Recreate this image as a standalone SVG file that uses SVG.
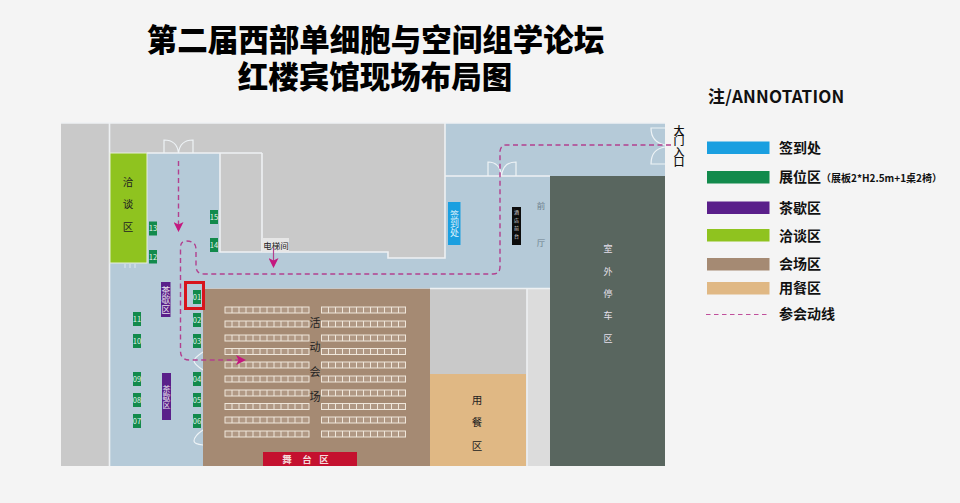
<svg xmlns="http://www.w3.org/2000/svg" width="960" height="503" viewBox="0 0 960 503">
<style>
text{font-family:"Noto Sans CJK SC","Noto Sans",sans-serif}
.title{font-size:30.5px;font-weight:900;fill:#000;text-anchor:middle}
.leg{font-size:14px;font-weight:700;fill:#111}
.zl{font-size:10.5px;fill:#222;text-anchor:middle}
.booth{fill:#128a4c}
.bt{font-size:7.5px;fill:#e4f4ea;text-anchor:middle}
.vw{font-size:9px;fill:#e6e0ec;text-anchor:middle}
.vt{writing-mode:vertical-rl;text-orientation:upright;text-anchor:middle}
.wall{fill:none;stroke:#eef1f3;stroke-width:1.6}
.door{fill:none;stroke:#eef3f6;stroke-width:1.2}
.route{fill:none;stroke:#b2408f;stroke-width:1.4;stroke-dasharray:5 3.5}
.seat{fill:#ffffff;fill-opacity:.12;stroke:#efe6da;stroke-width:1}
</style>
<defs>
<marker id="ah" viewBox="0 0 10 10" refX="8" refY="5" markerWidth="10" markerHeight="10" markerUnits="userSpaceOnUse" orient="auto"><path d="M0 0L10 5L0 10L2.5 5Z" fill="#c4187f"/></marker>
<g id="block">
<rect class="seat" x="0" y="0" width="84" height="6"/>
<path class="seat" d="M7 0V6M14 0V6M21 0V6M28 0V6M35 0V6M42 0V6M49 0V6M56 0V6M63 0V6M70 0V6M77 0V6"/>
</g>
<g id="row"><use href="#block" x="225"/><use href="#block" x="321.5"/></g>
</defs>
<rect width="960" height="503" fill="#f4f4f4"/>
<g id="title">
<text class="title"><tspan x="375.500" y="51">第二届西部单细胞与空间组学论坛</tspan><tspan x="375" y="88">红楼宾馆现场布局图</tspan></text>
</g>
<g id="plan">
<rect x="61" y="123" width="604" height="343" fill="#c9c9c9"/>
<path d="M110 153H220V252H388V258H445V123H665V176H550V288H203V466H110Z" fill="#b5cad8"/>
<rect x="527" y="289" width="23" height="177" fill="#dcdcdc"/>
<path class="wall" d="M61 123H665M109.500 123V466M147 153H220V252H262M262 153H220M262 153V252M262 252H388V258H445V176H550M445 123V176M430 288.500H550M527 289V466"/>
<rect x="550" y="176" width="115" height="290" fill="#59665f"/>
</g>
<g id="doors">
<path class="door" d="M164 153V140Q177 140 178.500 153Q180 140 193 140V153"/>
<path class="door" d="M488 176V162Q500 162 501.500 176Q503 162 516 162V176"/>
<path class="door" d="M665 128H651Q651 142 665 145M665 147Q651 149 651 164H665"/>
<path class="door" d="M203 352Q194 358 194 361Q194 364 203 370M203 430Q194 436 194 441Q194 444 203 445"/>
<path d="M125 264V268M130 264V268M135 264V268" stroke="#dfe8ee" stroke-width="1"/>
</g>
<g id="zone-negotiation"><rect x="110" y="153" width="37" height="110" fill="#8fc31f" stroke="#e8efdc" stroke-width="1"/>
<text class="zl" x="128" y="186">洽</text><text class="zl" x="128" y="208">谈</text><text class="zl" x="128" y="231">区</text></g>
<g id="zone-venue"><rect x="203" y="289" width="227" height="177" fill="#a58a73"/>
<use href="#row" y="307"/><use href="#row" y="321"/><use href="#row" y="335"/><use href="#row" y="348.500"/><use href="#row" y="362"/><use href="#row" y="376"/><use href="#row" y="390"/><use href="#row" y="403.500"/><use href="#row" y="417"/><use href="#row" y="431"/>
<text class="zl" x="315" y="327" style="font-size:11px">活</text><text class="zl" x="315" y="351" style="font-size:11px">动</text><text class="zl" x="315" y="376" style="font-size:11px">会</text><text class="zl" x="315" y="401" style="font-size:11px">场</text></g>
<g id="zone-stage"><rect x="263" y="452" width="94" height="14" fill="#c4112f"/><g style="font-weight:700;fill:#f4dcdc"><text x="287" y="463" text-anchor="middle" style="font-size:9.500px">舞</text><text x="307" y="463" text-anchor="middle" style="font-size:9.500px">台</text><text x="324" y="463" text-anchor="middle" style="font-size:9.500px">区</text></g></g>
<g id="zone-dining"><rect x="430" y="374" width="96" height="92" fill="#e0b884"/>
<text class="zl" x="477" y="404">用</text><text class="zl" x="477" y="426">餐</text><text class="zl" x="477" y="450">区</text></g>
<g id="zone-parking"><text class="vw" x="608" y="252">室</text><text class="vw" x="608" y="275">外</text><text class="vw" x="608" y="297">停</text><text class="vw" x="608" y="319">车</text><text class="vw" x="608" y="342">区</text></g>
<g id="zone-foyer"><text x="541" y="209" text-anchor="middle" style="font-size:8.500px;fill:#6d7f8c">前</text><text x="541" y="246" text-anchor="middle" style="font-size:8.500px;fill:#6d7f8c">厅</text></g>
<g id="elevator"><rect x="262" y="238" width="27" height="14" fill="#e6e6e6"/><text x="276" y="249" text-anchor="middle" style="font-size:8.500px;fill:#222">电梯间</text></g>
<g id="signin"><rect x="448" y="202" width="12.500" height="43" fill="#1a9fe0"/><text class="vt" x="454.500" y="223.500" style="font-size:9px;fill:#dff2fb">签到处</text></g>
<g id="frontdesk"><rect x="512" y="207" width="9" height="38" fill="#0c0c0c"/><text class="vt" x="516.500" y="226" style="font-size:5px;letter-spacing:3px;fill:#ddd">酒店前台</text></g>
<g id="tea-1"><rect x="161" y="282" width="9.500" height="35" fill="#5a1f8a"/><text class="vt" x="165.800" y="300" style="font-size:9px;letter-spacing:.5px;fill:#e6e0ec">茶歇区</text></g>
<g id="tea-2"><rect x="162" y="373" width="9" height="47" fill="#5a1f8a"/><text class="vt" x="166.500" y="397" style="font-size:8px;fill:#e6e0ec">茶歇区</text></g>
<g id="booths">
<g id="b13"><rect class="booth" x="149" y="221.500" width="8" height="14"/><text class="bt" x="153" y="231">13</text></g>
<g id="b12"><rect class="booth" x="149" y="250" width="8" height="13.500"/><text class="bt" x="153" y="259.500">12</text></g>
<g id="b15"><rect class="booth" x="210" y="210" width="8" height="14"/><text class="bt" x="214" y="220">15</text></g>
<g id="b14"><rect class="booth" x="210" y="238" width="8" height="14"/><text class="bt" x="214" y="248">14</text></g>
<g id="b01"><rect class="booth" x="193" y="290" width="8" height="14"/><text class="bt" x="197" y="300">01</text></g>
<g id="b02"><rect class="booth" x="193" y="313" width="8" height="14"/><text class="bt" x="197" y="323">02</text></g>
<g id="b03"><rect class="booth" x="193" y="334" width="8" height="14"/><text class="bt" x="197" y="344">03</text></g>
<g id="b04"><rect class="booth" x="193" y="372" width="8" height="14"/><text class="bt" x="197" y="382">04</text></g>
<g id="b05"><rect class="booth" x="193" y="393" width="8" height="14"/><text class="bt" x="197" y="403">05</text></g>
<g id="b06"><rect class="booth" x="193" y="414" width="8" height="14"/><text class="bt" x="197" y="424">06</text></g>
<g id="b11"><rect class="booth" x="133" y="312" width="8" height="14"/><text class="bt" x="137" y="322">11</text></g>
<g id="b10"><rect class="booth" x="133" y="334" width="8" height="14"/><text class="bt" x="137" y="344">10</text></g>
<g id="b09"><rect class="booth" x="133" y="372" width="8" height="14"/><text class="bt" x="137" y="382">09</text></g>
<g id="b08"><rect class="booth" x="133" y="393" width="8" height="14"/><text class="bt" x="137" y="403">08</text></g>
<g id="b07"><rect class="booth" x="133" y="414" width="8" height="14"/><text class="bt" x="137" y="424">07</text></g>
</g>
<g id="connectors">
<path class="route" d="M671 145H506Q501 145 500 151V267Q500 274 493 274H204Q196 274 196 266V249Q196 241 186 241Q180 241 180.500 249V351Q180.500 360 190 360H244" marker-end="url(#ah)"/>
<path class="route" d="M178.500 161V230" marker-end="url(#ah)"/>
<path d="M273.500 248V266" fill="none" stroke="#b2408f" stroke-width="1.200" marker-end="url(#ah)"/>
</g>
<g id="highlight"><rect x="185.500" y="282.500" width="18" height="26" fill="none" stroke="#d8141c" stroke-width="3"/></g>
<g id="entrance"><text class="vt" x="679" y="146" style="font-size:11px;letter-spacing:-.5px;fill:#111;font-weight:500">大门入口</text></g>
<g id="legend">
<text x="708" y="103" style="font-size:17px;font-weight:700;fill:#111;letter-spacing:.2px">注/ANNOTATION</text>
<rect x="707" y="141.500" width="62.500" height="12.500" fill="#1a9fe0"/><text class="leg" x="779" y="152.500">签到处</text>
<rect x="707" y="171" width="62.500" height="12.500" fill="#128a4c"/><text class="leg" x="779" y="182">展位区</text><text x="821" y="181.500" style="font-size:10px;font-weight:700;fill:#111">（展板2*H2.5m+1桌2椅）</text>
<rect x="707" y="201.500" width="62.500" height="12.500" fill="#5a1f8a"/><text class="leg" x="779" y="212.500">茶歇区</text>
<rect x="707" y="229" width="62.500" height="12.500" fill="#8fc31f"/><text class="leg" x="779" y="241">洽谈区</text>
<rect x="707" y="258" width="62.500" height="12.500" fill="#a58a73"/><text class="leg" x="779" y="269">会场区</text>
<rect x="707" y="282" width="62.500" height="12.500" fill="#e0b884"/><text class="leg" x="779" y="293">用餐区</text>
<path d="M706 314.500H770" fill="none" stroke="#c04f9b" stroke-width="1.200" stroke-dasharray="4.500 3.500"/><text class="leg" x="779" y="319">参会动线</text>
</g>
</svg>
